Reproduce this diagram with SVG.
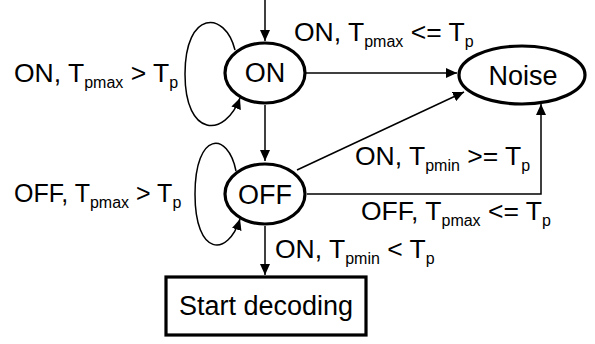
<svg xmlns="http://www.w3.org/2000/svg" width="595" height="344" viewBox="0 0 595 344">
<style>
.node{fill:#fff;stroke:#000;stroke-width:3.2}
.nt{font-family:"Liberation Sans",Arial,sans-serif;font-size:27px;fill:#000;text-anchor:middle}
.lb{font-family:"Liberation Sans",Arial,sans-serif;font-size:26.5px;fill:#000}
.lb2{font-size:25px}
.sub{font-size:16px}
.edge{fill:none;stroke:#000;stroke-width:1.5}
</style>
<defs>
<marker id="ah" markerUnits="userSpaceOnUse" markerWidth="12" markerHeight="10" refX="11" refY="5" orient="auto">
<path d="M0,0 L11,5 L0,10 Z" fill="#000"/>
</marker>
</defs>
<g id="connectors">
<path class="edge" d="M265 0 V41" marker-end="url(#ah)"/>
<path class="edge" d="M235 50 C225 10 185 10 185 74 C185 138 225 138 240 98" marker-end="url(#ah)"/>
<path class="edge" d="M306 73 H457" marker-end="url(#ah)"/>
<path class="edge" d="M265 105 V161" marker-end="url(#ah)"/>
<path class="edge" d="M236 171 C228 131 195 131 195 194 C195 257 228 257 240 219" marker-end="url(#ah)"/>
<path class="edge" d="M297 170 L464 92" marker-end="url(#ah)"/>
<path class="edge" d="M307 194 H541 V104" marker-end="url(#ah)"/>
<path class="edge" d="M265 226 V275" marker-end="url(#ah)"/>
<text class="lb" x="14" y="82">ON, T<tspan class="sub" dy="6">pmax</tspan><tspan dy="-6"> &gt; T</tspan><tspan class="sub" dy="6">p</tspan></text>
<text class="lb" x="294" y="41">ON, T<tspan class="sub" dy="6">pmax</tspan><tspan dy="-6"> &lt;= T</tspan><tspan class="sub" dy="6">p</tspan></text>
<text class="lb lb2" x="14" y="202">OFF, T<tspan class="sub" dy="6">pmax</tspan><tspan dy="-6"> &gt; T</tspan><tspan class="sub" dy="6">p</tspan></text>
<text class="lb" x="355" y="165">ON, T<tspan class="sub" dy="6">pmin</tspan><tspan dy="-6"> &gt;= T</tspan><tspan class="sub" dy="6">p</tspan></text>
<text class="lb" x="361" y="220">OFF, T<tspan class="sub" dy="6">pmax</tspan><tspan dy="-6"> &lt;= T</tspan><tspan class="sub" dy="6">p</tspan></text>
<text class="lb" x="275" y="258">ON, T<tspan class="sub" dy="6">pmin</tspan><tspan dy="-6"> &lt; T</tspan><tspan class="sub" dy="6">p</tspan></text>
</g>
<g id="on">
<ellipse class="node" cx="265" cy="73" rx="40" ry="30"/>
<text class="nt" x="265" y="82">ON</text>
</g>
<g id="off">
<ellipse class="node" cx="265" cy="194" rx="40" ry="30"/>
<text class="nt" x="265" y="204">OFF</text>
</g>
<g id="noise">
<ellipse class="node" cx="522" cy="75" rx="63" ry="29"/>
<text class="nt" x="523" y="85">Noise</text>
</g>
<g id="start">
<rect class="node" x="166" y="277" width="200" height="58" stroke-width="4"/>
<text class="nt" x="266" y="315">Start decoding</text>
</g>
</svg>
